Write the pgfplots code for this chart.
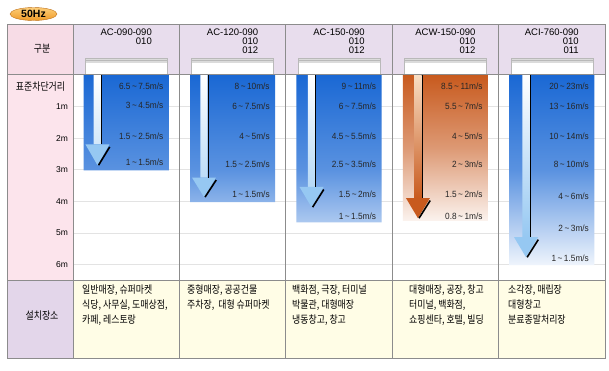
\documentclass[border=0pt]{standalone}
\usepackage{fontspec}
\setmainfont{Liberation Sans}
\newfontfamily\kr[FakeStretch=0.85]{Noto Sans CJK KR}
\newfontfamily\narrow[FakeStretch=0.92]{Liberation Sans}
\usepackage{pgfplots}
\pgfplotsset{compat=1.18}
\usetikzlibrary{arrows.meta}
\definecolor{pinkA}{RGB}{247,220,230}
\definecolor{pinkB}{RGB}{252,228,236}
\definecolor{lilac}{RGB}{232,221,237}
\definecolor{lilacB}{RGB}{227,214,234}
\definecolor{cream}{RGB}{255,253,230}
\definecolor{linegray}{RGB}{140,140,140}
\definecolor{barblue}{RGB}{26,104,212}
\definecolor{barorange}{RGB}{200,90,30}
\definecolor{shaftblue}{RGB}{150,200,242}
\definecolor{peach}{RGB}{248,222,196}
\definecolor{hzorange}{RGB}{240,155,40}
\newcommand\spd{\narrow\fontsize{9}{9}\selectfont}
\begin{document}
\begin{tikzpicture}
\fill[white] (0pt,0pt) rectangle (609pt,-370pt);
% 50Hz badge
\path[draw={rgb,255:red,190;green,110;blue,20}, top color={rgb,255:red,252;green,205;blue,120}, bottom color=hzorange] (33.5pt,-14pt) ellipse [x radius=23.5pt, y radius=6.5pt];
\node[font=\bfseries\fontsize{10.5}{10}\selectfont] at (33.5pt,-14pt) {50Hz};
% table backgrounds
\fill[pinkA] (7pt,-24pt) rectangle (73pt,-74pt);
\fill[lilac] (73pt,-24pt) rectangle (605pt,-74pt);
\fill[pinkB] (7pt,-74pt) rectangle (73pt,-280pt);
\fill[lilacB] (7pt,-280pt) rectangle (73pt,-358pt);
\fill[cream] (73pt,-280pt) rectangle (605pt,-358pt);
% unit grilles in the header
\foreach \c in {126.2,232.6,339,445.4,551.8}{
  \fill[white] (\c pt-41pt,-58pt) rectangle (\c pt+41pt,-74pt);
  \fill[gray!28] (\c pt-41pt,-58pt) rectangle (\c pt+41pt,-63pt);
  \draw[gray!55, line width=0.4pt] (\c pt-41pt,-60.5pt) -- (\c pt+41pt,-60.5pt);
  \draw[gray!55, line width=0.5pt] (\c pt-41pt,-58pt) rectangle (\c pt+41pt,-74pt);
}
\begin{axis}[
  at={(73pt,-75pt)}, anchor=north west,
  width=532pt, height=205pt, scale only axis,
  xmin=-0.5, xmax=4.5, ymin=0, ymax=6.5, y dir=reverse,
  axis line style={draw=none},
  xtick=\empty,
  ytick={1,2,3,4,5,6}, yticklabels={1m,2m,3m,4m,5m,6m},
  major tick length=0pt,
  ymajorgrids, grid style={gray!22},
  yticklabel style={font=\fontsize{8.5}{9}\selectfont, xshift=-1.5pt},
  clip=false,
]
% gradient bars (reach of the air curtain)
\addplot[ybar, bar width=0.8, bar shift=0pt, draw=none,
  top color=barblue, bottom color=barblue!7!white, middle color=barblue!72!white]
  coordinates {(0,3.02) (1,4.03) (2,4.67) (4,6.03)};
\addplot[ybar, bar width=0.8, bar shift=0pt, draw=none,
  top color=barorange, bottom color=barorange!8!white, middle color=barorange!62!white]
  coordinates {(3,4.6)};
% arrow shafts
\addplot[ybar, bar width=0.07, bar shift=0pt, draw=none,
  top color=white, bottom color=shaftblue]
  coordinates {(-0.27,2.2) (0.731,3.25) (1.742,3.55) (3.758,5.14)};
\addplot[ybar, bar width=0.07, bar shift=0pt, draw=none,
  top color=peach, bottom color=barorange]
  coordinates {(2.742,3.9)};
% arrow heads
\addplot[fill=shaftblue, draw=none] coordinates {(-0.383,2.2) (-0.157,2.2) (-0.27,2.86)} -- cycle;
\addplot[fill=shaftblue, draw=none] coordinates {(0.618,3.25) (0.844,3.25) (0.731,3.87)} -- cycle;
\addplot[fill=shaftblue, draw=none] coordinates {(1.629,3.55) (1.855,3.55) (1.742,4.19)} -- cycle;
\addplot[fill=barorange, draw=none] coordinates {(2.629,3.9) (2.855,3.9) (2.742,4.54)} -- cycle;
\addplot[fill=shaftblue, draw=none] coordinates {(3.645,5.14) (3.871,5.14) (3.758,5.78)} -- cycle;
% black edge lines of the arrows
\addplot[black, line width=1.1pt] coordinates {(-0.23,0) (-0.23,2.2)};
\addplot[black, line width=1.1pt] coordinates {(0.771,0) (0.771,3.25)};
\addplot[black, line width=1.1pt] coordinates {(1.782,0) (1.782,3.55)};
\addplot[black, line width=1.1pt] coordinates {(2.782,0) (2.782,3.9)};
\addplot[black, line width=1.1pt] coordinates {(3.798,0) (3.798,5.14)};
\addplot[black, line width=1.6pt] coordinates {(-0.155,2.28) (-0.26,2.86)};
\addplot[black, line width=1.6pt] coordinates {(0.846,3.33) (0.741,3.87)};
\addplot[black, line width=1.6pt] coordinates {(1.857,3.63) (1.752,4.19)};
\addplot[black, line width=1.6pt] coordinates {(2.857,3.98) (2.752,4.54)};
\addplot[black, line width=1.6pt] coordinates {(3.873,5.22) (3.768,5.78)};
% wind speed labels
\begin{scope}[every node/.style={anchor=east, font=\spd, text=black!85, inner sep=0pt}]
\node at (axis cs:0.35,0.35) {6.5\,\textasciitilde\,7.5m/s};
\node at (axis cs:0.35,0.95) {3\,\textasciitilde\,4.5m/s};
\node at (axis cs:0.35,1.94) {1.5\,\textasciitilde\,2.5m/s};
\node at (axis cs:0.35,2.76) {1\,\textasciitilde\,1.5m/s};
\node at (axis cs:1.35,0.35) {8\,\textasciitilde\,10m/s};
\node at (axis cs:1.35,0.98) {6\,\textasciitilde\,7.5m/s};
\node at (axis cs:1.35,1.94) {4\,\textasciitilde\,5m/s};
\node at (axis cs:1.35,2.83) {1.5\,\textasciitilde\,2.5m/s};
\node at (axis cs:1.35,3.78) {1\,\textasciitilde\,1.5m/s};
\node at (axis cs:2.35,0.35) {9\,\textasciitilde\,11m/s};
\node at (axis cs:2.35,0.98) {6\,\textasciitilde\,7.5m/s};
\node at (axis cs:2.35,1.94) {4.5\,\textasciitilde\,5.5m/s};
\node at (axis cs:2.35,2.83) {2.5\,\textasciitilde\,3.5m/s};
\node at (axis cs:2.35,3.78) {1.5\,\textasciitilde\,2m/s};
\node at (axis cs:2.35,4.48) {1\,\textasciitilde\,1.5m/s};
\node at (axis cs:3.35,0.35) {8.5\,\textasciitilde\,11m/s};
\node at (axis cs:3.35,0.98) {5.5\,\textasciitilde\,7m/s};
\node at (axis cs:3.35,1.94) {4\,\textasciitilde\,5m/s};
\node at (axis cs:3.35,2.83) {2\,\textasciitilde\,3m/s};
\node at (axis cs:3.35,3.78) {1.5\,\textasciitilde\,2m/s};
\node at (axis cs:3.35,4.48) {0.8\,\textasciitilde\,1m/s};
\node at (axis cs:4.35,0.35) {20\,\textasciitilde\,23m/s};
\node at (axis cs:4.35,0.98) {13\,\textasciitilde\,16m/s};
\node at (axis cs:4.35,1.94) {10\,\textasciitilde\,14m/s};
\node at (axis cs:4.35,2.83) {8\,\textasciitilde\,10m/s};
\node at (axis cs:4.35,3.84) {4\,\textasciitilde\,6m/s};
\node at (axis cs:4.35,4.86) {2\,\textasciitilde\,3m/s};
\node at (axis cs:4.35,5.81) {1\,\textasciitilde\,1.5m/s};
\end{scope}
\end{axis}
% table lines
\draw[linegray, line width=0.7pt] (7pt,-74pt) -- (605pt,-74pt);
\draw[linegray, line width=0.7pt] (7pt,-280pt) -- (605pt,-280pt);
\foreach \xx in {73,179.4,285.8,392.2,498.6}{
  \draw[linegray, line width=0.7pt] (\xx pt,-24pt) -- (\xx pt,-358pt);
}
\draw[linegray, line width=1pt] (7pt,-24pt) rectangle (605pt,-358pt);
% left column texts
\node[font=\kr\fontsize{10.5}{10}\selectfont] at (42pt,-49pt) {구분};
\node[font=\kr\fontsize{10.5}{10}\selectfont] at (40.5pt,-87pt) {표준차단거리};
\node[font=\kr\fontsize{10.5}{10}\selectfont] at (42pt,-316pt) {설치장소};
% header model names
\begin{scope}[every node/.style={anchor=north, align=right, inner sep=0pt, font=\fontsize{9.5}{9}\selectfont}]
\node at (126.2pt,-29pt) {AC-090-090\\010};
\node at (232.6pt,-29pt) {AC-120-090\\010\\012};
\node at (339pt,-29pt) {AC-150-090\\010\\012};
\node at (445.4pt,-29pt) {ACW-150-090\\010\\012};
\node at (551.8pt,-29pt) {ACI-760-090\\010\\011};
\end{scope}
% installation places
\begin{scope}[every node/.style={anchor=north west, align=left, inner sep=0pt, font=\kr\fontsize{10.5}{15}\selectfont}]
\node at (82pt,-285pt) {일반매장, 슈퍼마켓\\식당, 사무실, 도매상점,\\카페, 레스토랑};
\node at (187pt,-285pt) {중형매장, 공공건물\\주차장,\ \ 대형 슈퍼마켓};
\node at (292pt,-285pt) {백화점, 극장, 터미널\\박물관, 대형매장\\냉동창고, 창고};
\node at (409pt,-285pt) {대형매장, 공장, 창고\\터미널, 백화점,\\쇼핑센타, 호텔, 빌딩};
\node at (508pt,-285pt) {소각장, 매립장\\대형창고\\분료종말처리장};
\end{scope}
\end{tikzpicture}
\end{document}
